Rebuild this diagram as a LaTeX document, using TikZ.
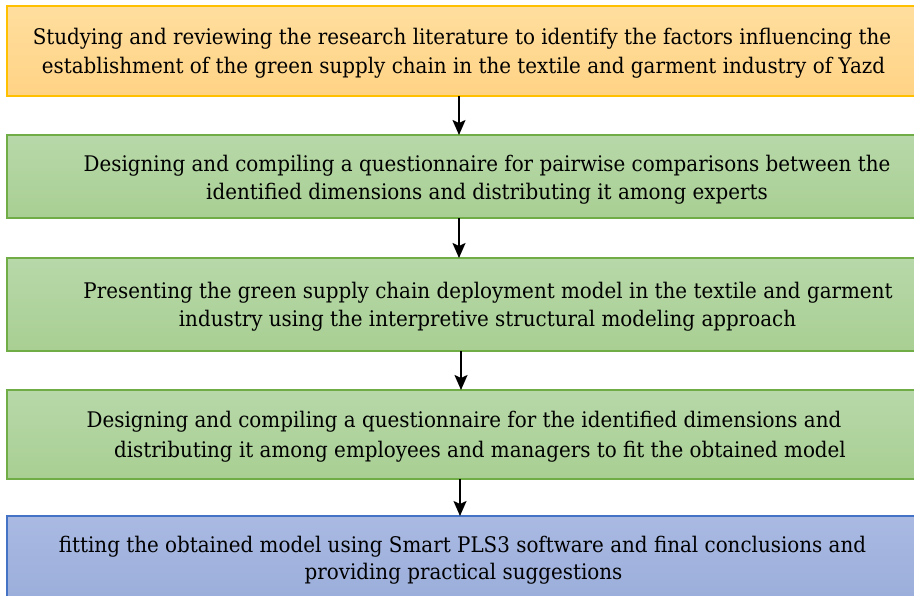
\documentclass[tikz,border=0pt]{standalone}
\usepackage{fontspec}
\setmainfont{DejaVu Serif}[FakeStretch=0.925]
\usetikzlibrary{arrows.meta}
\definecolor{orTop}{HTML}{FFDE9E}
\definecolor{orBot}{HTML}{FFD385}
\definecolor{orLine}{HTML}{FFC000}
\definecolor{grTop}{HTML}{B7D8A9}
\definecolor{grBot}{HTML}{A9CF93}
\definecolor{grLine}{HTML}{70AD47}
\definecolor{blTop}{HTML}{A9B9E2}
\definecolor{blBot}{HTML}{9AADDA}
\definecolor{blLine}{HTML}{4472C4}
\tikzset{
  boxbase/.style={rectangle, minimum width=914pt, inner sep=0pt, outer sep=0pt, line width=1.2pt},
  obox/.style={boxbase, draw=orLine, top color=orTop, bottom color=orBot},
  gbox/.style={boxbase, draw=grLine, top color=grTop, bottom color=grBot},
  bbox/.style={boxbase, draw=blLine, top color=blTop, bottom color=blBot},
  txt/.style={anchor=base, inner sep=0pt, font=\fontsize{21.5}{26}\selectfont},
  arr/.style={line width=1.8pt, -{Stealth[length=15pt,width=13pt,inset=3pt]}}
}
\begin{document}
\begin{tikzpicture}[x=1pt,y=-1pt]
\useasboundingbox (0,0) rectangle (914,596);
\node[obox, minimum height=90pt] (b1) at (464,51) {};
\node[gbox, minimum height=83pt] (b2) at (464,176.5) {};
\node[gbox, minimum height=93pt] (b3) at (464,304.5) {};
\node[gbox, minimum height=89pt] (b4) at (464,434.5) {};
\node[bbox, minimum height=90pt] (b5) at (464,561) {};
\node[txt] (t1a) at (462,45) {Studying and reviewing the research literature to identify the factors influencing the};
\node[txt] (t1b) at (463.5,74) {establishment of the green supply chain in the textile and garment industry of Yazd};
\node[txt] (t2a) at (487,172) {Designing and compiling a questionnaire for pairwise comparisons between the};
\node[txt] (t2b) at (487,200) {identified dimensions and distributing it among experts};
\node[txt] (t3a) at (488,299) {Presenting the green supply chain deployment model in the textile and garment};
\node[txt] (t3b) at (487.5,327) {industry using the interpretive structural modeling approach};
\node[txt] (t4a) at (464,428) {Designing and compiling a questionnaire for the identified dimensions and};
\node[txt] (t4b) at (480,457) {distributing it among employees and managers to fit the obtained model};
\node[txt] (t5a) at (462.5,552) {fitting the obtained model using Smart PLS3 software and final conclusions and};
\node[txt] (t5b) at (463.5,579) {providing practical suggestions};
\draw[arr] ([xshift=-5pt]b1.south) -- ([xshift=-5pt]b2.north);
\draw[arr] ([xshift=-5pt]b2.south) -- ([xshift=-5pt]b3.north);
\draw[arr] ([xshift=-3pt]b3.south) -- ([xshift=-3pt]b4.north);
\draw[arr] ([xshift=-4pt]b4.south) -- ([xshift=-4pt]b5.north);
\end{tikzpicture}
\end{document}
